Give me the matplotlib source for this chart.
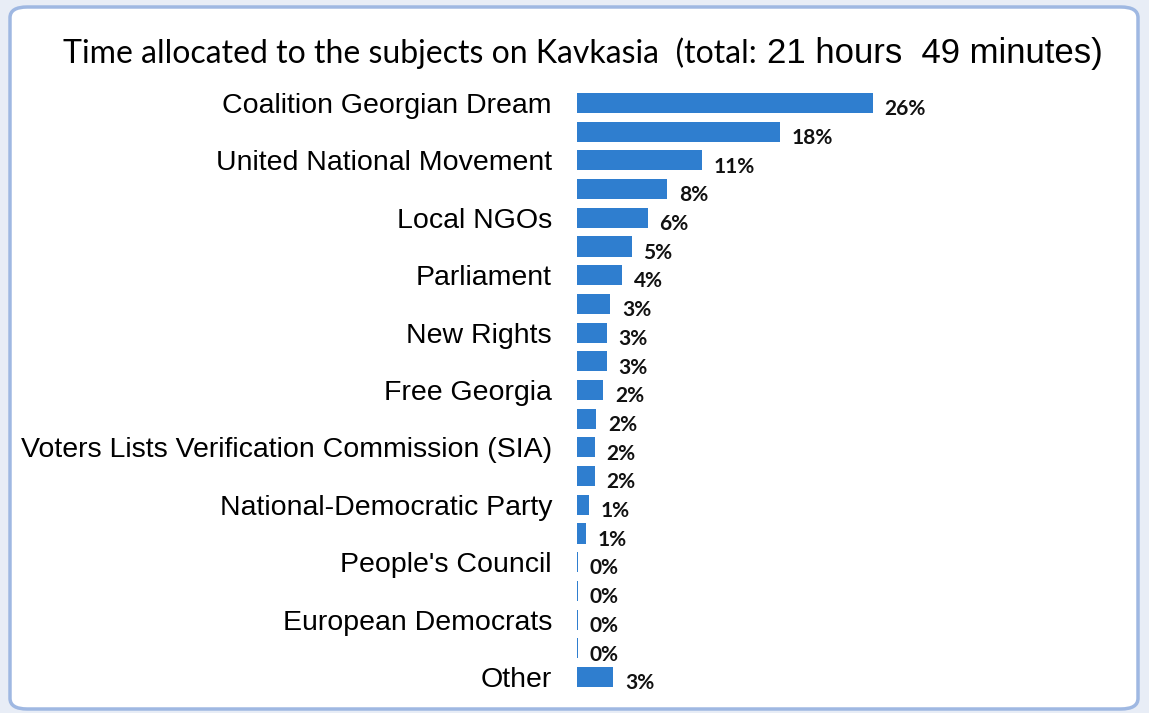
import matplotlib.pyplot as plt
from matplotlib.patches import FancyBboxPatch

# данные с картинки (доля эфирного времени, %)
shares = [26.0, 17.8, 11.0, 7.9, 6.2, 4.8, 3.95, 2.9, 2.6, 2.6, 2.3,
          1.7, 1.55, 1.55, 1.05, 0.8, 0.05, 0.05, 0.05, 0.05, 3.2]
shown = ['26%', '18%', '11%', '8%', '6%', '5%', '4%', '3%', '3%', '3%', '2%',
         '2%', '2%', '2%', '1%', '1%', '0%', '0%', '0%', '0%', '3%']
# подписаны только чётные строки
subjects = ['Coalition Georgian Dream', 'United National Movement', 'Local NGOs',
            'Parliament', 'New Rights', 'Free Georgia',
            'Voters Lists Verification Commission (SIA)', 'National-Democratic Party',
            "People's Council", 'European Democrats', 'Other']

fig = plt.figure(figsize=(11.49, 7.13), dpi=100)
fig.patch.set_facecolor('#e8edf6')

# белая рамка со скруглёнными углами
frame = FancyBboxPatch((10 / 1149, 4 / 713), 1128 / 1149, 702 / 713,
                       boxstyle='round,pad=0,rounding_size=0.015',
                       transform=fig.transFigure, facecolor='white',
                       edgecolor='#9fb8e2', linewidth=2.5, zorder=-5)
fig.patches.append(frame)

ax = fig.add_axes([577 / 1149, 0.0303, 523 / 1149, 0.8454])
ax.set_facecolor('none')

pos = list(range(len(shares)))
ax.barh(pos, shares, height=0.7, color='#2f7ecf')
ax.set_ylim(len(shares) - 0.5, -0.5)
ax.set_xlim(0, 45.96)

for y, v, s in zip(pos, shares, shown):
    ax.annotate(s, (v, y), xytext=(8.5, -4.5), textcoords='offset points',
                va='center', ha='left', fontsize=15, fontweight='bold',
                family='Lato', color='#111111')

ax.set_yticks(pos[::2])
ax.set_yticklabels(subjects, fontsize=20.5, family='Liberation Sans')
ax.tick_params(axis='y', length=0, pad=18)
ax.set_xticks([])
for sp in ax.spines.values():
    sp.set_visible(False)

# заголовок из двух частей разными шрифтами
fig.text(757 / 1149, 1 - 53 / 713, 'Time allocated to the subjects on Kavkasia  (total:',
         ha='right', va='center', fontsize=23, family='Lato')
fig.text(767 / 1149, 1 - 53 / 713, '21 hours  49 minutes)',
         ha='left', va='center', fontsize=25, family='Liberation Sans')

fig.savefig('out.png', dpi=100, facecolor=fig.get_facecolor())
